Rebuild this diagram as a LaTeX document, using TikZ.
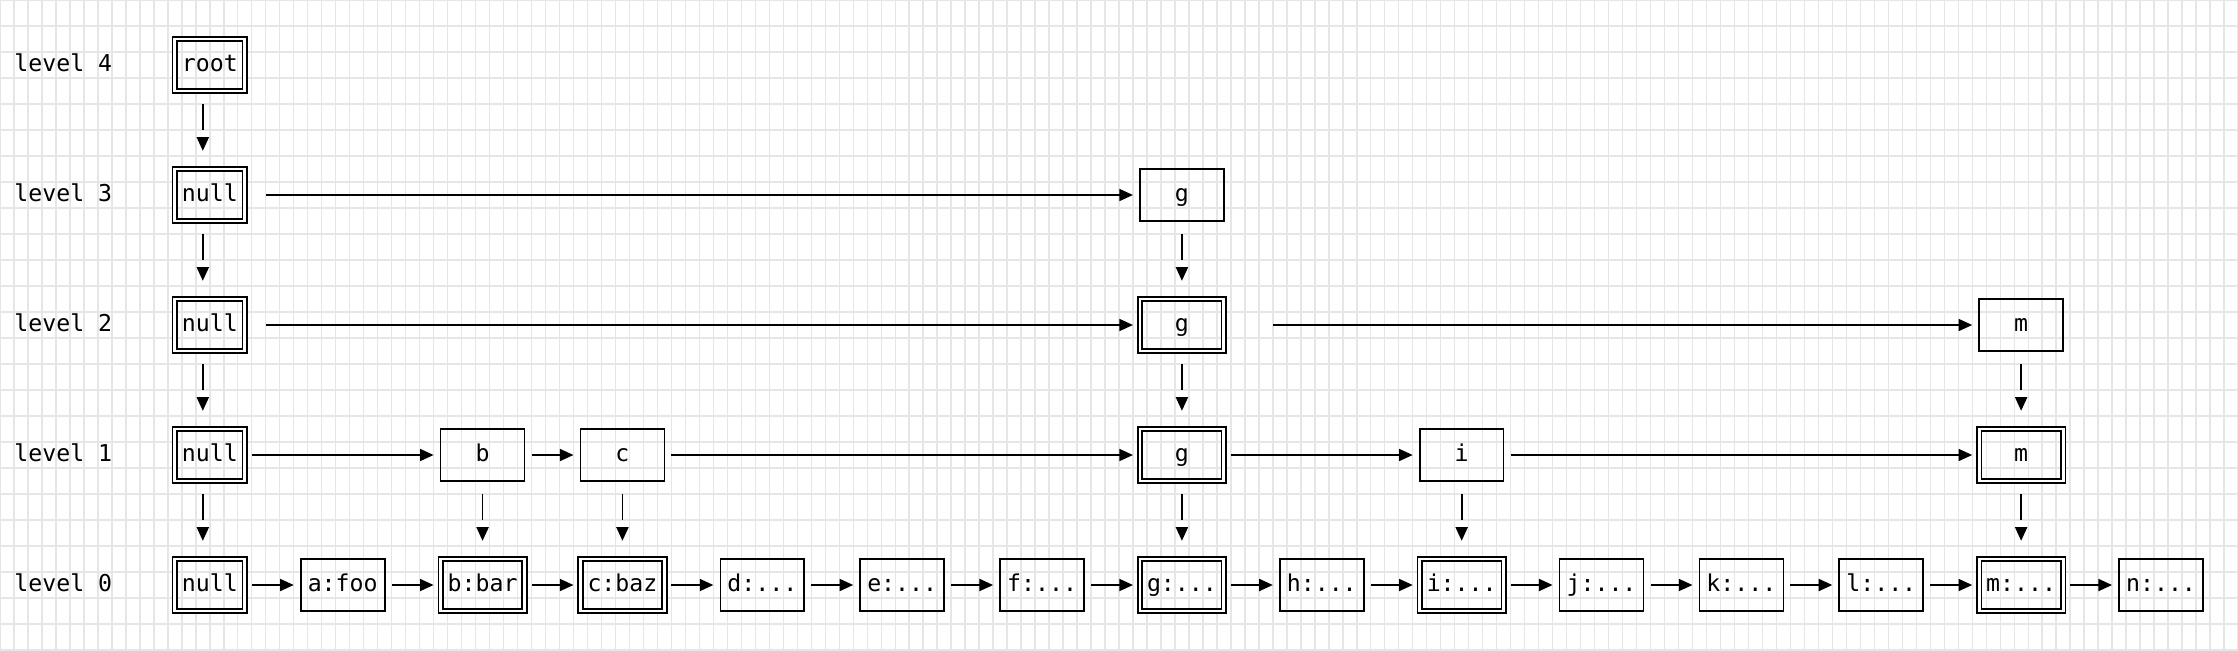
\documentclass[tikz,border=0pt]{standalone}
\usepackage{fontspec}
\setmonofont{DejaVu Sans Mono}
\usetikzlibrary{positioning, arrows.meta}
\definecolor{gridgray}{HTML}{E6E6E6}
\tikzset{cell/.style={draw, rectangle, line width=0.85pt, minimum width=41.96pt, minimum height=26pt, inner sep=0pt, outer sep=0pt}}
\tikzset{express/.style={cell, double, double distance=1.4pt}}
\tikzset{head/.style={express, minimum width=34.97pt}}
\tikzset{link/.style={line width=0.85pt, -{Triangle[length=6.8pt,width=6pt]}, shorten <=3.5pt, shorten >=3.5pt}}
\tikzset{drop/.style={line width=0.85pt, -{Triangle[length=6.8pt,width=6pt]}, shorten <=6.5pt, shorten >=9.1pt, dash pattern=on 13pt off 20pt}}
\tikzset{lvl/.style={anchor=west, inner sep=0pt}}
\tikzset{gridline/.style={gridgray, line width=0.7pt}}

\begin{document}
\begin{tikzpicture}[
                x=6.99375pt, y=-13pt,
                node distance=39pt and 27.975pt,
                every node/.style={font=\ttfamily\fontsize{11.6pt}{13pt}\selectfont, text height=8.8pt, text depth=2.1pt}
            ]
                \useasboundingbox (0,0) rectangle (160,25);
                \fill[white] (0,0) rectangle (160,25);
                \foreach \i in {0,...,160} \draw[gridline] (\i,0) -- (\i,25);
                \foreach \j in {0,...,25} \draw[gridline] (0,\j) -- (160,\j);

                % level labels
                \node[lvl] (lab4) at (1,2.5) {level 4};
                \node[lvl] (lab3) at (1,7.5) {level 3};
                \node[lvl] (lab2) at (1,12.5) {level 2};
                \node[lvl] (lab1) at (1,17.5) {level 1};
                \node[lvl] (lab0) at (1,22.5) {level 0};

                % level 0
                \node[head] (nil0) at (15,22.5) {null};
                \node[cell, right=of nil0] (a0) {a:foo};
                \node[express, right=of a0] (b0) {b:bar};
                \node[express, right=of b0] (c0) {c:baz};
                \node[cell, right=of c0] (d0) {d:...};
                \node[cell, right=of d0] (e0) {e:...};
                \node[cell, right=of e0] (f0) {f:...};
                \node[express, right=of f0] (g0) {g:...};
                \node[cell, right=of g0] (h0) {h:...};
                \node[express, right=of h0] (i0) {i:...};
                \node[cell, right=of i0] (j0) {j:...};
                \node[cell, right=of j0] (k0) {k:...};
                \node[cell, right=of k0] (l0) {l:...};
                \node[express, right=of l0] (m0) {m:...};
                \node[cell, right=of m0] (n0) {n:...};

                % level 1
                \node[head, above=of nil0] (nil1) {null};
                \node[cell, above=of b0] (b1) {b};
                \node[cell, above=of c0] (c1) {c};
                \node[express, above=of g0] (g1) {g};
                \node[cell, above=of i0] (i1) {i};
                \node[express, above=of m0] (m1) {m};

                % level 2
                \node[head, above=of nil1] (nil2) {null};
                \node[express, above=of g1] (g2) {g};
                \node[cell, above=of m1] (m2) {m};

                % level 3
                \node[head, above=of nil2] (nil3) {null};
                \node[cell, above=of g2] (g3) {g};

                % level 4
                \node[head, above=of nil3] (root) {root};

                % forward links
                \draw[link] (nil0) -- (a0);
                \draw[link] (a0) -- (b0);
                \draw[link] (b0) -- (c0);
                \draw[link] (c0) -- (d0);
                \draw[link] (d0) -- (e0);
                \draw[link] (e0) -- (f0);
                \draw[link] (f0) -- (g0);
                \draw[link] (g0) -- (h0);
                \draw[link] (h0) -- (i0);
                \draw[link] (i0) -- (j0);
                \draw[link] (j0) -- (k0);
                \draw[link] (k0) -- (l0);
                \draw[link] (l0) -- (m0);
                \draw[link] (m0) -- (n0);

                \draw[link] (nil1) -- (b1);
                \draw[link] (b1) -- (c1);
                \draw[link] (c1) -- (g1);
                \draw[link] (g1) -- (i1);
                \draw[link] (i1) -- (m1);

                \draw[link, shorten <=10.49pt] (nil2) -- (g2);
                \draw[link, shorten <=24.48pt] (g2) -- (m2);

                \draw[link, shorten <=10.49pt] (nil3) -- (g3);

                % down links
                \draw[drop] ([xshift=-3.5pt]root.south) -- ([xshift=-3.5pt]nil3.north);
                \draw[drop] ([xshift=-3.5pt]nil3.south) -- ([xshift=-3.5pt]nil2.north);
                \draw[drop] ([xshift=-3.5pt]nil2.south) -- ([xshift=-3.5pt]nil1.north);
                \draw[drop] ([xshift=-3.5pt]nil1.south) -- ([xshift=-3.5pt]nil0.north);
                \draw[drop] (g3) -- (g2);
                \draw[drop] (g2) -- (g1);
                \draw[drop] (m2) -- (m1);
                \draw[drop] (b1) -- (b0);
                \draw[drop] (c1) -- (c0);
                \draw[drop] (g1) -- (g0);
                \draw[drop] (i1) -- (i0);
                \draw[drop] (m1) -- (m0);
            \end{tikzpicture}
\end{document}
